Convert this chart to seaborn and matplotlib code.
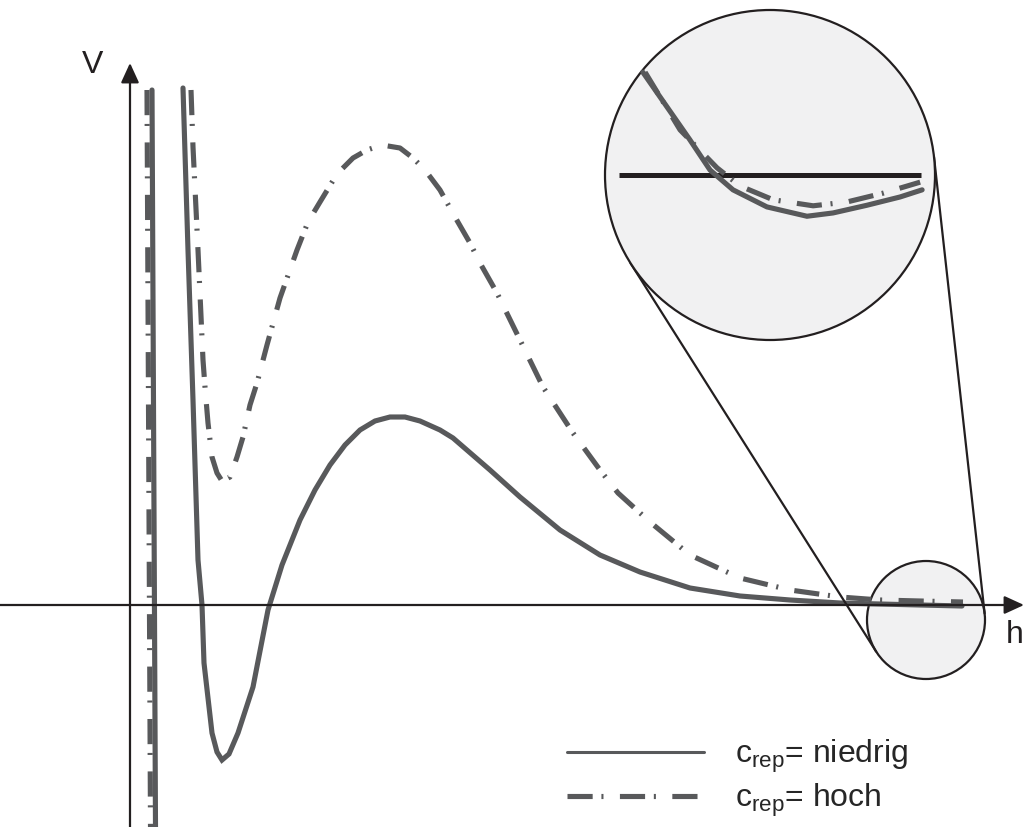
import numpy as np
import matplotlib
matplotlib.use("Agg")
import matplotlib.pyplot as plt
from matplotlib.patches import Circle
from matplotlib.lines import Line2D
import seaborn as sns

# --- potential curves V(h) -------------------------------------------------
# low repulsion concentration (solid)
h_niedrig = [0.53, 0.58, 0.63, 0.68, 0.72, 0.74, 0.82, 0.87, 0.92, 0.99, 1.08,
             1.23, 1.38, 1.52, 1.70, 1.85, 2.00, 2.15, 2.30, 2.45, 2.60, 2.75,
             2.90, 3.10, 3.23, 3.60, 3.90, 4.30, 4.70, 5.10, 5.60, 6.10, 6.60,
             7.10, 7.50, 7.90, 8.32]
v_niedrig = [5.17, 3.55, 2.05, 0.45, 0.00, -0.58, -1.28, -1.47, -1.55, -1.49, -1.28,
             -0.82, -0.05, 0.40, 0.85, 1.15, 1.40, 1.60, 1.75, 1.84, 1.88, 1.88,
             1.84, 1.75, 1.67, 1.35, 1.08, 0.75, 0.50, 0.33, 0.17, 0.09, 0.05,
             0.02, 0.01, 0.00, -0.01]

# high repulsion concentration (dash-dot)
h_hoch = [0.61, 0.63, 0.68, 0.73, 0.75, 0.78, 0.82, 0.87, 0.92, 1.00, 1.07, 1.13,
          1.20, 1.27, 1.37, 1.50, 1.67, 1.78, 1.90, 2.07, 2.23, 2.37, 2.52, 2.70,
          2.83, 2.95, 3.10, 3.25, 3.40, 3.50, 3.67, 3.90, 4.13, 4.43, 4.70, 4.88,
          5.20, 5.60, 6.10, 6.60, 7.10, 7.50, 7.90, 8.33]
v_hoch = [5.15, 4.58, 3.55, 2.45, 2.18, 1.82, 1.48, 1.32, 1.24, 1.28, 1.48, 1.68,
          2.00, 2.22, 2.60, 3.07, 3.55, 3.83, 4.03, 4.31, 4.47, 4.55, 4.60, 4.57,
          4.47, 4.35, 4.15, 3.88, 3.62, 3.42, 3.12, 2.65, 2.18, 1.72, 1.35, 1.12,
          0.83, 0.50, 0.27, 0.15, 0.08, 0.05, 0.04, 0.03]

# steep branches close to h = 0
h_wand_niedrig = [0.22, 0.255]
v_wand_niedrig = [5.15, -2.22]
h_wand_hoch = [0.17, 0.205]
v_wand_hoch = [5.15, -2.22]

# magnified region around the secondary minimum
h_lupe_niedrig = [7.506, 7.592, 7.674, 7.746, 7.828, 7.949, 8.092, 8.185, 8.306, 8.424, 8.503]
v_lupe_niedrig = [0.187, 0.124, 0.064, 0.009, -0.027, -0.058, -0.075, -0.069, -0.055, -0.040, -0.027]
h_lupe_hoch = [7.514, 7.639, 7.771, 7.853, 7.971, 8.114, 8.235, 8.364, 8.496]
v_lupe_hoch = [0.187, 0.082, 0.013, -0.020, -0.045, -0.056, -0.049, -0.033, -0.013]

labels = [r"c$_{\mathrm{rep}}$= niedrig", r"c$_{\mathrm{rep}}$= hoch"]

# --- style ------------------------------------------------------------------
sns.set_theme(style="white")
plt.rcParams["font.family"] = ["Liberation Sans", "DejaVu Sans"]
plt.rcParams["mathtext.fontset"] = "custom"
plt.rcParams["mathtext.rm"] = "Liberation Sans"
plt.rcParams["mathtext.it"] = "Liberation Sans:italic"

GRAY = "#58595b"
BLACK = "#231f20"
FILL = "#f1f1f2"
LW = 3.7
DASHDOT = (4.9, 1.7, 0.4, 3.2)

W, H = 1024, 827
fig = plt.figure(figsize=(W / 100, H / 100), dpi=100)
ax = fig.add_axes([0, 0, 1, 1])
x0, x1 = -1.30, 8.94
y0, y1 = -2.22, 6.05
ax.set_xlim(x0, x1)
ax.set_ylim(y0, y1)
ax.set_axis_off()


def curve(axis, hs, vs, dashed, lw=LW, z=3):
    sns.lineplot(x=hs, y=vs, ax=axis, color=GRAY, linewidth=lw, sort=False,
                 estimator=None, legend=False, zorder=z)
    line = axis.lines[-1]
    line.set_solid_joinstyle("miter")
    if dashed:
        line.set_dashes(DASHDOT)
        line.set_dash_capstyle("butt")
    return line


# coordinate axes with arrow heads
arrow = dict(arrowstyle="-|>,head_length=12,head_width=5.5", mutation_scale=1,
             lw=1.6, color=BLACK, shrinkA=0, shrinkB=0)
ax.annotate("", xy=(0, 5.42), xytext=(0, y0), arrowprops=arrow, zorder=5)
ax.annotate("", xy=(x1, 0), xytext=(x0, 0), arrowprops=arrow, zorder=5)
ax.text(-0.37, 5.40, "V", fontsize=23, ha="center", va="center", color=BLACK)
ax.text(8.85, -0.30, "h", fontsize=23, ha="center", va="center", color=BLACK)

# small circle marking the magnified region
c_small = (7.96, -0.15)
r_small = 0.59
ax.add_patch(Circle(c_small, r_small, facecolor=FILL, edgecolor=BLACK, lw=1.6, zorder=2))

# curves
curve(ax, h_wand_niedrig, v_wand_niedrig, False)
curve(ax, h_wand_hoch, v_wand_hoch, True)
curve(ax, h_niedrig, v_niedrig, False)
curve(ax, h_hoch, v_hoch, True)

# magnified view
c_big = (6.40, 4.30)
r_big = 1.65
left = (c_big[0] - r_big - x0) / (x1 - x0)
bottom = (c_big[1] - r_big - y0) / (y1 - y0)
ax_in = fig.add_axes([left, bottom, 2 * r_big / (x1 - x0), 2 * r_big / (y1 - y0)], zorder=6)
ax_in.set_axis_off()
ax_in.patch.set_visible(False)
ax_in.set_xlim(7.371, 8.549)
ax_in.set_ylim(-0.30, 0.30)
ax_in.add_patch(Circle((0.5, 0.5), 0.5, transform=ax_in.transAxes, facecolor=FILL,
                       edgecolor=BLACK, lw=1.6, zorder=1, clip_on=False))
ax_in.plot([7.42, 8.50], [0, 0], color=BLACK, lw=3.6, zorder=2, solid_capstyle="butt")
curve(ax_in, h_lupe_niedrig, v_lupe_niedrig, False, z=3)
curve(ax_in, h_lupe_hoch, v_lupe_hoch, True, z=4)

# connector lines: outer common tangents of both circles
C1, C2 = np.array(c_big), np.array(c_small)
D = np.linalg.norm(C1 - C2)
u = (C1 - C2) / D
cos_t = (r_big - r_small) / D
sin_t = np.sqrt(1 - cos_t ** 2)
perp = np.array([-u[1], u[0]])
for s in (1, -1):
    n = u * cos_t + s * perp * sin_t
    p1 = C1 - r_big * n
    p2 = C2 - r_small * n
    ax.plot([p1[0], p2[0]], [p1[1], p2[1]], color=BLACK, lw=1.6, zorder=4)

# legend
handles = [Line2D([], [], color=GRAY, lw=2.2),
           Line2D([], [], color=GRAY, lw=LW, dashes=DASHDOT, dash_capstyle="butt")]
ax.legend(handles, labels, loc="upper left", bbox_to_anchor=(567 / W, 1 - 738 / H),
          frameon=False, fontsize=23, handlelength=4.3, handletextpad=0.95,
          labelspacing=0.2, borderpad=0, borderaxespad=0)

fig.savefig("out.png", dpi=100, facecolor="white")
